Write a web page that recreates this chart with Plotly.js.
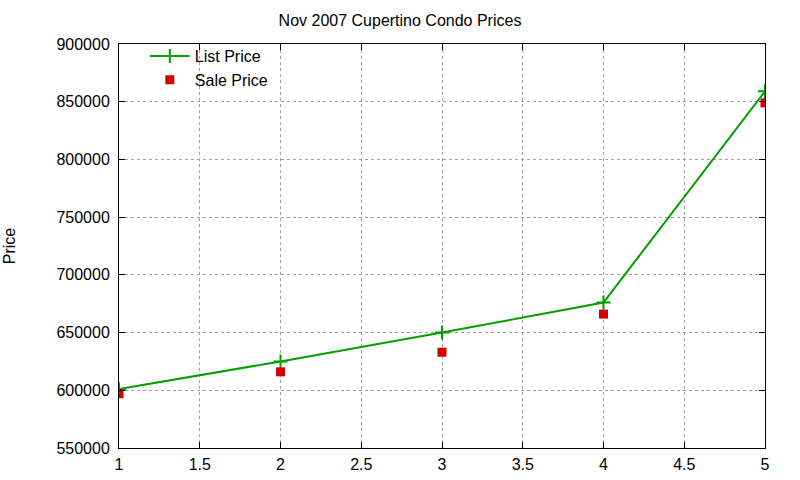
<!DOCTYPE html>
<html>
<head>
<meta charset="utf-8">
<script src="https://cdn.plot.ly/plotly-3.0.1.min.js"></script>
<style>
  html, body { margin: 0; padding: 0; background: #fff; }
  #chart { width: 800px; height: 480px; }
</style>
</head>
<body>
<div id="chart"></div>
<script>
var xs = [1, 2, 3, 4, 5];
var listPrice = [601000, 625000, 650000, 676000, 859000];
var salePrice = [597000, 616000, 633000, 666000, 849000];

var fontName = 'Liberation Sans, Arial, sans-serif';
var axisFont = {family: fontName, size: 16, color: '#000'};

// list price: line with crosses
var trace1 = {
  x: xs,
  y: listPrice,
  mode: 'lines+markers',
  name: 'List Price',
  type: 'scatter',
  line: {color: '#00a000', width: 2},
  marker: {symbol: 'cross-thin', size: 10, line: {color: '#00a000', width: 2}}
};

// sale price: squares only
var trace2 = {
  x: xs,
  y: salePrice,
  mode: 'markers',
  name: 'Sale Price',
  type: 'scatter',
  marker: {symbol: 'square', size: 9, color: '#d40000'}
};

var layout = {
  width: 800,
  height: 480,
  margin: {l: 119, r: 35, t: 44, b: 32},
  paper_bgcolor: '#fff',
  plot_bgcolor: '#fff',
  font: axisFont,
  title: {text: 'Nov 2007 Cupertino Condo Prices', font: {family: fontName, size: 16, color: '#000'}, x: 0.5, xanchor: 'center', y: 0.958, yanchor: 'middle'},
  showlegend: true,
  legend: {x: 0.04, y: 1.012, xanchor: 'left', yanchor: 'top', bgcolor: 'rgba(0,0,0,0)', font: {family: fontName, size: 16}, tracegroupgap: 0, itemwidth: 40},
  xaxis: {
    range: [1, 5],
    dtick: 0.5,
    showgrid: true,
    gridcolor: '#a0a0a0',
    griddash: 'dot',
    gridwidth: 1,
    zeroline: false,
    showline: true,
    linecolor: '#000',
    linewidth: 1,
    mirror: 'ticks',
    ticks: 'inside',
    ticklen: 6,
    tickcolor: '#000',
    ticklabelstandoff: 2,
    tickfont: axisFont
  },
  yaxis: {
    range: [550000, 900000],
    dtick: 50000,
    tickformat: 'd',
    showgrid: true,
    gridcolor: '#a0a0a0',
    griddash: 'dot',
    gridwidth: 1,
    zeroline: false,
    showline: true,
    linecolor: '#000',
    linewidth: 1,
    mirror: 'ticks',
    ticks: 'inside',
    ticklen: 6,
    tickcolor: '#000',
    ticklabelstandoff: 5,
    tickfont: axisFont,
    title: {text: 'Price', font: axisFont, standoff: 36}
  }
};

Plotly.newPlot('chart', [trace1, trace2], layout, {displayModeBar: false});
</script>
</body>
</html>
